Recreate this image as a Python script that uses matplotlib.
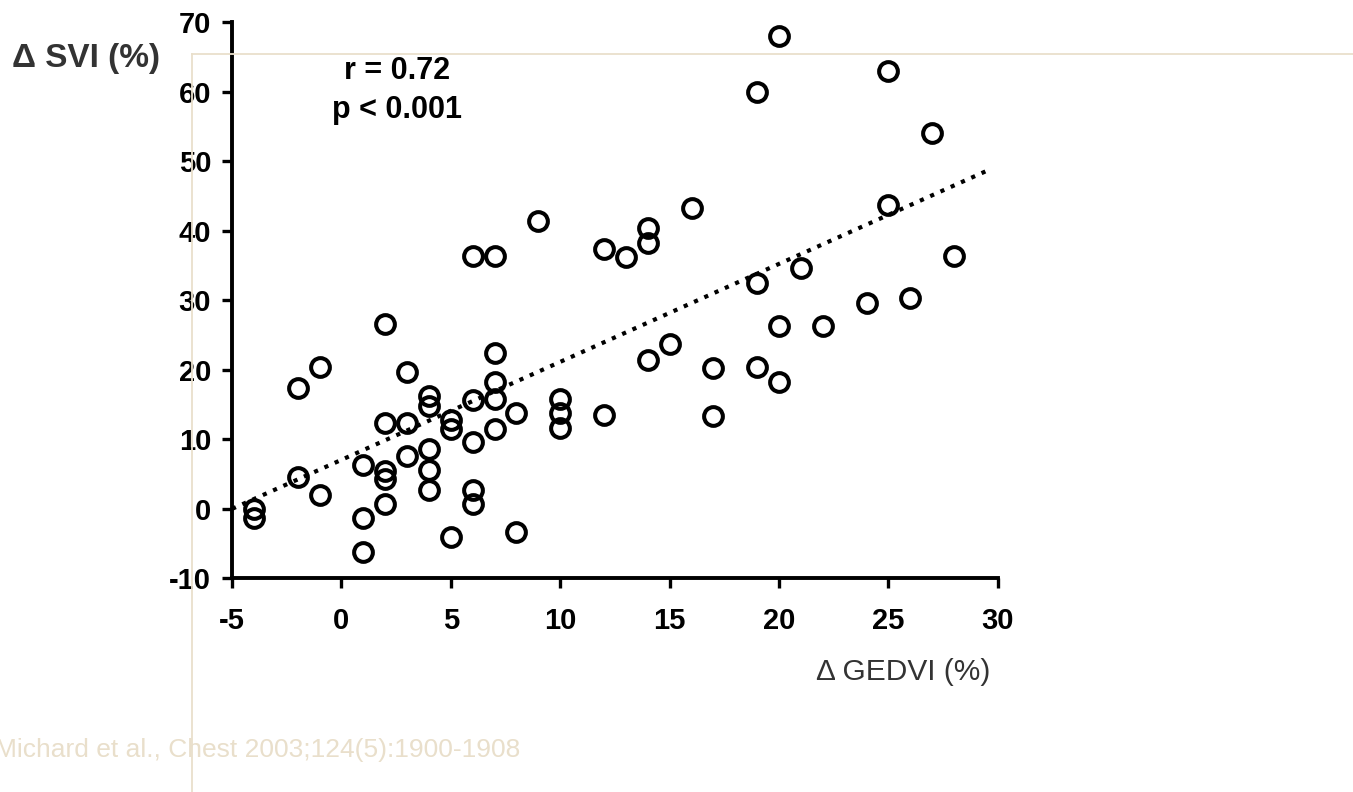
import matplotlib
matplotlib.use("Agg")
import matplotlib.pyplot as plt
from matplotlib.lines import Line2D

# data
gedvi_change = [
    -4, -4, -2, -1, -2, -1,
    1, 1, 1, 2, 2, 2, 2, 2,
    3, 3, 3, 4, 4, 4, 4, 4,
    5, 5, 5, 6, 6, 6, 6, 6,
    7, 7, 7, 7, 7, 8, 8, 9,
    10, 10, 10, 12, 12, 13, 14, 14, 14, 15, 16,
    17, 17, 19, 19, 19, 20, 20, 20, 21, 22,
    24, 25, 25, 26, 27, 28,
]
svi_change = [
    0.0, -1.3, 17.4, 20.3, 4.6, 1.9,
    6.3, -1.3, -6.3, 0.7, 12.3, 5.4, 4.2, 26.5,
    19.6, 12.3, 7.6, 16.2, 14.8, 8.6, 5.6, 2.6,
    12.7, 11.5, -4.1, 15.6, 9.5, 2.7, 0.6, 36.3,
    22.4, 18.2, 15.7, 11.5, 36.3, 13.7, -3.4, 41.3,
    15.7, 13.8, 11.6, 37.4, 13.5, 36.2, 40.4, 38.2, 21.3, 23.7, 43.3,
    20.2, 13.3, 32.5, 20.3, 60.0, 68.0, 26.3, 18.2, 34.6, 26.2,
    29.6, 43.6, 63.0, 30.3, 54.0, 36.3,
]
fit_intercept = 7.0
fit_slope = 1.41
fit_range = [-5, 29.6]

x_ticks = [-5, 0, 5, 10, 15, 20, 25, 30]
y_ticks = [-10, 0, 10, 20, 30, 40, 50, 60, 70]

BEIGE = "#e9dfcb"
FONT = ["Liberation Sans", "DejaVu Sans"]

fig = plt.figure(figsize=(13.53, 7.92), dpi=100)
ax = fig.add_axes([0.1715, 0.2702, 0.566, 0.702])

ax.plot(gedvi_change, svi_change, linestyle="none", marker="o",
        markersize=13.5, markerfacecolor="none", markeredgecolor="black",
        markeredgewidth=2.9, zorder=3)

fit_y = [fit_intercept + fit_slope * v for v in fit_range]
ax.plot(fit_range, fit_y, color="black", linewidth=3.0,
        linestyle=(0, (1, 1.7)), zorder=2)

ax.set_xlim(-5, 30)
ax.set_ylim(-10, 70)
ax.set_xticks(x_ticks)
ax.set_yticks(y_ticks)
ax.set_xticklabels([str(t) for t in x_ticks], family=FONT, weight="bold", fontsize=21)
ax.set_yticklabels([str(t) for t in y_ticks], family=FONT, weight="bold", fontsize=21)
ax.tick_params(direction="out", length=7, width=2.4, colors="black")
ax.tick_params(axis="x", pad=14)
ax.tick_params(axis="y", pad=8)
for side in ["top", "right"]:
    ax.spines[side].set_visible(False)
for side in ["left", "bottom"]:
    ax.spines[side].set_linewidth(2.8)
ax.set_facecolor("none")

ax.text(0.216, 0.912, "r = 0.72", transform=ax.transAxes, ha="center",
        va="center", family=FONT, weight="bold", fontsize=22)
ax.text(0.216, 0.842, "p < 0.001", transform=ax.transAxes, ha="center",
        va="center", family=FONT, weight="bold", fontsize=22)

fig.text(12 / 1353, 1 - 58 / 792, "\u0394 SVI (%)", ha="left", va="center",
         family=FONT, weight="bold", fontsize=24, color="#333333")
fig.text(990 / 1353, 1 - 672 / 792, "\u0394 GEDVI (%)", ha="right", va="center",
         family=FONT, fontsize=21.5, color="#333333")
fig.text(-5 / 1353, 1 - 750 / 792, "Michard et al., Chest 2003;124(5):1900-1908",
         ha="left", va="center", family=FONT, fontsize=19, color=BEIGE)

# beige frame lines of the slide
fig.add_artist(Line2D([192 / 1353, 1], [1 - 54 / 792, 1 - 54 / 792],
                      transform=fig.transFigure, color=BEIGE, linewidth=1.3))
fig.add_artist(Line2D([192 / 1353, 192 / 1353], [0, 1 - 54 / 792],
                      transform=fig.transFigure, color=BEIGE, linewidth=1.3))

fig.savefig("out.png", dpi=100)
